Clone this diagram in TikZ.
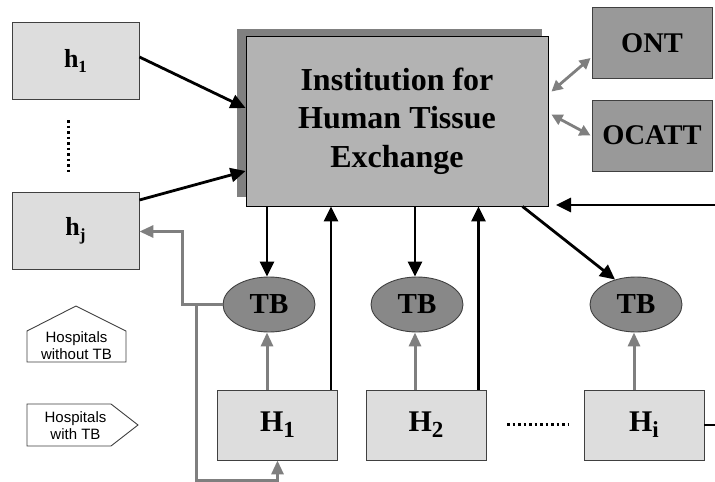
\documentclass[tikz,border=0pt]{standalone}
\usepackage{fontspec}
\setmainfont{Liberation Serif}
\newfontfamily\lsans{Liberation Sans}
\usetikzlibrary{arrows.meta,shapes.geometric,calc,backgrounds}
\definecolor{lightg}{HTML}{DDDDDD}
\definecolor{maing}{HTML}{B3B3B3}
\definecolor{shadg}{HTML}{808080}
\definecolor{orgg}{HTML}{999999}
\definecolor{tbg}{HTML}{888888}
\definecolor{grayline}{HTML}{7F7F7F}
\definecolor{edgeg}{HTML}{404040}
\newcommand{\hsub}[1]{\raisebox{-5pt}{\fontsize{17}{17}\selectfont #1}}
\newcommand{\Hsub}[1]{\raisebox{-6pt}{\fontsize{23}{23}\selectfont #1}}
\begin{document}
\begin{tikzpicture}[x=1pt,y=-1pt,
  lbox/.style={draw=edgeg, fill=lightg, line width=0.9pt, inner sep=0pt,
    minimum width=127pt, minimum height=77pt, font=\fontsize{26}{26}\selectfont\bfseries},
  Hbox/.style={draw=edgeg, fill=lightg, line width=0.9pt, inner sep=0pt,
    minimum width=120pt, minimum height=70pt, font=\fontsize{30}{30}\selectfont\bfseries},
  orgbox/.style={draw=edgeg, fill=orgg, line width=0.9pt, inner sep=0pt,
    minimum width=120pt, minimum height=71pt, font=\fontsize{28.5}{28.5}\selectfont\bfseries},
  tb/.style={ellipse, draw=edgeg, fill=tbg, line width=0.9pt, inner sep=0pt,
    minimum width=92pt, minimum height=55pt, font=\fontsize{29}{29}\selectfont\bfseries},
  blk/.style={draw=black, line width=2.8pt, -{Triangle[length=15pt,width=14pt]}},
  blkline/.style={draw=black, line width=2.8pt},
  gry/.style={draw=grayline, line width=3pt, -{Triangle[length=14pt,width=12pt]}},
  gry2/.style={draw=grayline, line width=2.8pt, {Triangle[length=11pt,width=11pt]}-{Triangle[length=11pt,width=11pt]}},
  legend/.style={draw=edgeg, fill=white, line width=0.9pt},
  legtext/.style={align=center, font=\lsans\fontsize{15}{17.5}\selectfont, inner sep=0pt},
  dotline/.style={line width=3pt, dash pattern=on 2.5pt off 3pt}
]
\useasboundingbox (0,0) rectangle (715,482);

% left hospitals without TB
\node[lbox] (h1) at (75.5,60.5) {h\hsub{1}};
\node[lbox] (hj) at (75.5,230.5) {h\hsub{j}};
\coordinate (vd1) at (68,120);
\coordinate (vd2) at (68,174);
\draw[dotline] (vd1) -- (vd2);

% main institution
\node[draw=black, fill=maing, line width=0.9pt, inner sep=0pt,
  minimum width=302pt, minimum height=170pt, align=center,
  font=\fontsize{32}{38.5}\selectfont\bfseries] (main) at (397,121)
  {Institution for\\Human Tissue\\Exchange};
\begin{scope}[on background layer]
  \fill[white] (0,0) rectangle (715,482);
  \fill[shadg] ([shift={(-9pt,7pt)}]main.north west) rectangle ([shift={(-6pt,9pt)}]main.south east);
\end{scope}

% ONT, OCATT
\node[orgbox] (ont) at (652,43) {ONT};
\node[orgbox] (ocatt) at (652,135.5) {OCATT};
\draw[gry2] ([shift={(3pt,-56pt)}]main.north east) -- ([shift={(-1pt,-15pt)}]ont.west);
\draw[gry2] ([shift={(3pt,-79pt)}]main.north east) -- ([xshift=-1pt]ocatt.west);

% tissue banks
\node[tb] (tb1) at (269,304.5) {TB};
\node[tb] (tb2) at (417,304.5) {TB};
\node[tb] (tb3) at (636,304.5) {TB};

% hospitals with TB
\node[Hbox] (H1) at (277.5,425) {H\Hsub{1}};
\node[Hbox] (H2) at (426,425) {H\Hsub{2}};
\node[Hbox] (Hi) at (644,425) {H\Hsub{i}};
\coordinate (hd1) at (507,424);
\coordinate (hd2) at (568,424);
\draw[dotline] (hd1) -- (hd2);

% left to main
\draw[blk] ([yshift=3.5pt]h1.east) -- ([yshift=13pt]main.west);
\draw[blk] ([yshift=30.5pt]hj.east) -- ([yshift=-50pt]main.west);

% main to TB and hospitals to main
\draw[blk] ([xshift=-2pt]main.south -| tb1.north) -- ([xshift=-2pt]tb1.north);
\draw[blk] ([xshift=-2pt]main.south -| tb2.north) -- ([xshift=-2pt]tb2.north);
\draw[blk] ([xshift=-26pt]main.south east) -- (tb3.130);
\draw[blk] ([xshift=-7pt]H1.north east) -- ([xshift=-7pt]H1.north east |- main.south);
\draw[blk] ([xshift=-8pt]H2.north east) -- ([xshift=-8pt]H2.north east |- main.south);

% right incoming
\coordinate (rin) at (715,205);
\coordinate (rtip) at (556,205);
\draw[blk] (rin) -- (rtip);
\coordinate (rout) at (715,425);
\draw[blkline] (Hi.east) -- (rout);

% hospitals to TB
\draw[gry] ([xshift=-2pt]H1.north -| tb1.south) -- ([xshift=-2pt]tb1.south);
\draw[gry] ([xshift=-2pt]H2.north -| tb2.south) -- ([xshift=-2pt]tb2.south);
\draw[gry] ([xshift=-2pt]Hi.north -| tb3.south) -- ([xshift=-2pt]tb3.south);

% TB1 loops
\coordinate (c1) at (182,304.5);
\coordinate (c2) at (196,304.5);
\coordinate (c3) at (196,480);
\draw[gry] (tb1.west) -- (c1) |- ([yshift=-1pt]hj.east);
\draw[gry] (c2) -- (c3) -| (H1.south);

% legend
\draw[legend] (27,362) -- (27,331) -- (76,306) -- (126,331) -- (126,362) -- cycle;
\node[legtext] (leg1) at (76.5,345.5) {Hospitals\\without TB};
\draw[legend] (27,404) -- (111,404) -- (138,425) -- (111,446) -- (27,446) -- cycle;
\node[legtext] (leg2) at (75.5,425.5) {Hospitals\\with TB};
\end{tikzpicture}
\end{document}
